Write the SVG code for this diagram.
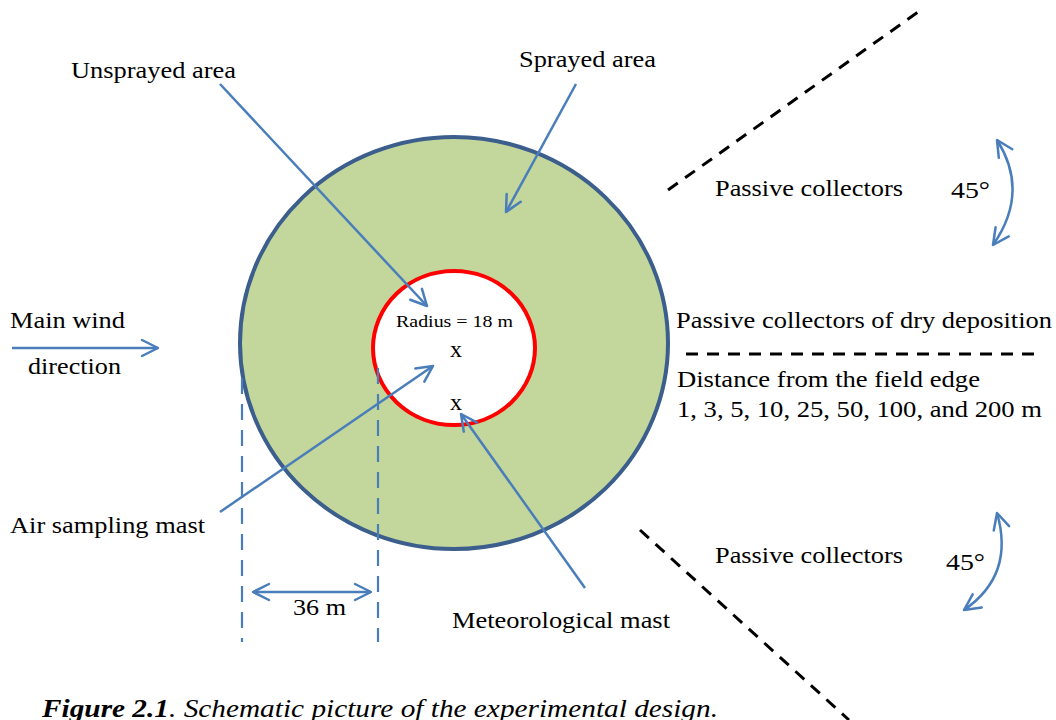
<svg xmlns="http://www.w3.org/2000/svg" width="1056" height="720" viewBox="0 0 1056 720">
<style>
text{font-family:"Liberation Serif","Times New Roman",serif;fill:#000;font-size:24px}
.small{font-size:17px}
.blue{stroke:#4A7EBB;stroke-width:2.5;fill:none}
.bdash{stroke:#000;stroke-width:3;stroke-dasharray:12 9;fill:none}
.vdash{stroke:#4A7EBB;stroke-width:2.2;stroke-dasharray:16 10;fill:none}
</style>
<defs>
<marker id="ah" viewBox="0 0 20 20" refX="18" refY="10" markerWidth="20" markerHeight="20" markerUnits="userSpaceOnUse" orient="auto-start-reverse">
<path d="M2,2 L18,10 L2,18" fill="none" stroke="#4A7EBB" stroke-width="2.5" stroke-linecap="round" stroke-linejoin="round"/>
</marker>
</defs>
<rect width="1056" height="720" fill="#fff"/>
<g id="sprayed-field">
<ellipse cx="454" cy="343" rx="214" ry="206" fill="#C3D69B" stroke="#3B5E8C" stroke-width="4"/>
</g>
<g id="unsprayed-center">
<ellipse cx="454" cy="348" rx="81" ry="77" fill="#fff" stroke="#FF0000" stroke-width="4"/>
<text class="small" x="396" y="327" textLength="117" lengthAdjust="spacingAndGlyphs">Radius = 18 m</text>
<text x="450" y="357">x</text>
<text x="450" y="410">x</text>
</g>
<g id="connectors">
<line class="blue" x1="220" y1="84" x2="427" y2="306" marker-end="url(#ah)"/>
<line class="blue" x1="576" y1="84" x2="506" y2="212" marker-end="url(#ah)"/>
<line class="blue" x1="220" y1="512" x2="433" y2="366" marker-end="url(#ah)"/>
<line class="blue" x1="585" y1="588" x2="461" y2="414" marker-end="url(#ah)"/>
<line class="blue" x1="12" y1="348" x2="158" y2="348" marker-end="url(#ah)"/>
<line class="blue" x1="253" y1="592" x2="371" y2="592" marker-start="url(#ah)" marker-end="url(#ah)"/>
<line class="vdash" x1="242" y1="378" x2="242" y2="642"/>
<line class="vdash" x1="378" y1="368" x2="378" y2="642"/>
<path class="blue" d="M997,140 Q1030,192 993,245" marker-start="url(#ah)" marker-end="url(#ah)"/>
<path class="blue" d="M997,513 Q1015,575 964,610" marker-start="url(#ah)" marker-end="url(#ah)"/>
<line class="bdash" x1="668" y1="190" x2="918" y2="12"/>
<line class="bdash" x1="686" y1="354" x2="1034" y2="354"/>
<line class="bdash" x1="640" y1="530" x2="849" y2="720"/>
</g>
<g id="labels">
<text x="71" y="78" textLength="165" lengthAdjust="spacingAndGlyphs">Unsprayed area</text>
<text x="519" y="67" textLength="137" lengthAdjust="spacingAndGlyphs">Sprayed area</text>
<text x="715" y="196" textLength="188" lengthAdjust="spacingAndGlyphs">Passive collectors</text>
<text x="951" y="198" textLength="39" lengthAdjust="spacingAndGlyphs">45°</text>
<text x="10" y="328" textLength="115" lengthAdjust="spacingAndGlyphs">Main wind</text>
<text x="28" y="374" textLength="93" lengthAdjust="spacingAndGlyphs">direction</text>
<text x="676" y="328" textLength="376" lengthAdjust="spacingAndGlyphs">Passive collectors of dry deposition</text>
<text x="677" y="387" textLength="303" lengthAdjust="spacingAndGlyphs">Distance from the field edge</text>
<text x="677" y="417" textLength="365" lengthAdjust="spacingAndGlyphs">1, 3, 5, 10, 25, 50, 100, and 200 m</text>
<text x="10" y="533" textLength="195" lengthAdjust="spacingAndGlyphs">Air sampling mast</text>
<text x="715" y="563" textLength="188" lengthAdjust="spacingAndGlyphs">Passive collectors</text>
<text x="946" y="570" textLength="39" lengthAdjust="spacingAndGlyphs">45°</text>
<text x="293" y="615" textLength="53" lengthAdjust="spacingAndGlyphs">36 m</text>
<text x="452" y="628" textLength="218" lengthAdjust="spacingAndGlyphs">Meteorological mast</text>
<text x="42" y="717" style="font-style:italic;font-size:25px" textLength="676" lengthAdjust="spacingAndGlyphs"><tspan font-weight="bold">Figure 2.1</tspan>. Schematic picture of the experimental design.</text>
</g>
</svg>
